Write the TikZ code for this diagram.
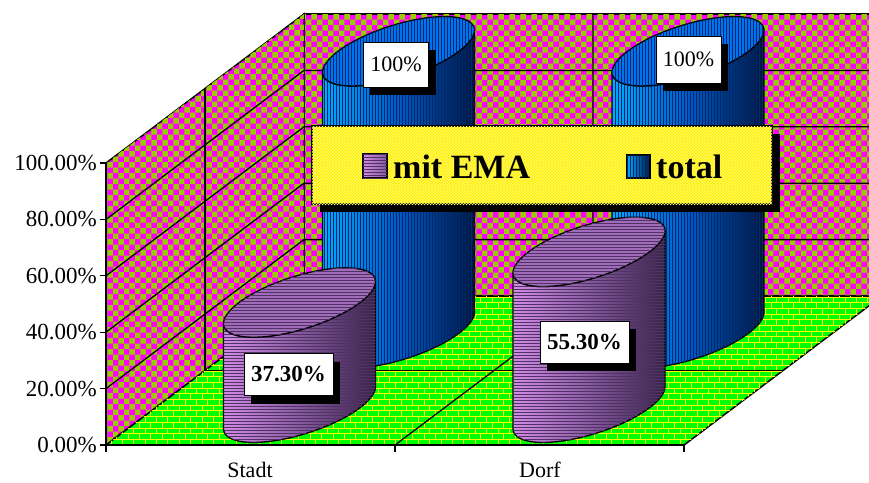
\documentclass[tikz,border=0pt]{standalone}
\usepackage{fontspec}
\setmainfont{Liberation Serif}
\usetikzlibrary{patterns,shadows}
\definecolor{wallmag}{RGB}{255,0,255}
\definecolor{wallgrn}{RGB}{153,204,0}
\definecolor{floorgrn}{RGB}{0,255,0}
\definecolor{brickyel}{RGB}{255,255,0}
\definecolor{legyel}{RGB}{255,232,0}
\definecolor{emalight}{RGB}{210,140,230}
\definecolor{emamid}{RGB}{135,90,160}
\definecolor{emadark}{RGB}{55,35,72}
\definecolor{emastripe}{RGB}{80,50,100}
\definecolor{ematop}{RGB}{160,108,185}
\definecolor{totlight}{RGB}{0,170,255}
\definecolor{totmid}{RGB}{0,90,200}
\definecolor{totdark}{RGB}{0,22,60}
\definecolor{totstripe}{RGB}{0,40,110}
\definecolor{tottop}{RGB}{0,115,240}
\tikzstyle{wall} = [draw, line width=1.5pt, fill=wallmag,
    postaction={pattern=checkerboard, pattern color=wallgrn}]
\tikzstyle{floorplane} = [draw, line width=1.5pt, fill=floorgrn,
    postaction={pattern=bricks, pattern color=brickyel}]
\tikzstyle{gridline} = [line width=1.3pt]
\tikzstyle{emaside} = [draw, line width=1.3pt, left color=emalight, right color=emadark, middle color=emamid,
    postaction={pattern=horizontal lines, pattern color=emastripe}]
\tikzstyle{ematopface} = [draw, line width=1.3pt, fill=ematop,
    postaction={pattern=horizontal lines, pattern color=emastripe}]
\tikzstyle{totside} = [draw, line width=1.3pt, left color=totlight, right color=totdark, middle color=totmid,
    postaction={pattern=vertical lines, pattern color=totstripe}]
\tikzstyle{tottopface} = [draw, line width=1.3pt, fill=tottop,
    postaction={pattern=vertical lines, pattern color=totstripe}]
\tikzstyle{valuebox} = [draw, fill=white, line width=0.6pt, inner xsep=7pt, minimum height=42pt,
    drop shadow={shadow xshift=7pt, shadow yshift=-8pt, fill=black, opacity=1}]
\tikzstyle{axislabel} = [anchor=east, inner sep=0pt, font=\fontsize{23}{27}\selectfont]
\tikzstyle{catlabel} = [anchor=base, inner sep=0pt, font=\fontsize{22}{26}\selectfont]
\tikzstyle{legendtext} = [anchor=base west, inner sep=0pt, font=\fontsize{34}{40}\selectfont\bfseries]
% cylinder: x, y of floor centre, height, side style, top style
\newcommand{\cylbar}[5]{%
  \draw[#4] plot[domain=217.25:397.25, samples=40] ({#1+60.5*cos(\x)+46*sin(\x)},{#2-34.7*sin(\x)})
    -- plot[domain=397.25:217.25, samples=40] ({#1+60.5*cos(\x)+46*sin(\x)},{#2-#3-34.7*sin(\x)}) -- cycle;
  \draw[#5] plot[domain=0:360, samples=80] ({#1+60.5*cos(\x)+46*sin(\x)},{#2-#3-34.7*sin(\x)}) -- cycle;
}

\begin{document}
\begin{tikzpicture}[x=1pt,y=-1pt]
    \useasboundingbox (0,0) rectangle (869,482);
    \clip (0,0) rectangle (869,482);

    % Corners of the box
    \coordinate (frontbot) at (106,445);
    \coordinate (fronttop) at (106,163);
    \coordinate (backbot) at (304,296);
    \coordinate (backtop) at (304,14);
    \coordinate (rightbot) at (882,296);
    \coordinate (righttop) at (882,14);
    \coordinate (frontright) at (684,445);

    % Walls and floor
    \path[wall] (backtop) -- (righttop) -- (rightbot) -- (backbot) -- cycle;
    \path[wall] (fronttop) -- (backtop) -- (backbot) -- (frontbot) -- cycle;
    \path[floorplane] (frontbot) -- (backbot) -- (rightbot) -- (frontright) -- cycle;

    % Grid lines
    \draw[gridline] (106,219.4) -- (304,70.4) -- (882,70.4);
    \draw[gridline] (106,275.8) -- (304,126.8) -- (882,126.8);
    \draw[gridline] (106,332.2) -- (304,183.2) -- (882,183.2);
    \draw[gridline] (106,388.6) -- (304,239.6) -- (882,239.6);
    \draw[gridline] (205,88.5) -- (205,370.5) -- (783,370.5);
    \draw[gridline] (395,445) -- (593,296) -- (593,14);

    % Axes and ticks
    \draw[line width=1.5pt] (fronttop) -- (frontbot) -- (frontright);
    \draw[line width=1.3pt] (100,163) -- (106,163);
    \draw[line width=1.3pt] (100,219.4) -- (106,219.4);
    \draw[line width=1.3pt] (100,275.8) -- (106,275.8);
    \draw[line width=1.3pt] (100,332.2) -- (106,332.2);
    \draw[line width=1.3pt] (100,388.6) -- (106,388.6);
    \draw[line width=1.3pt] (100,445) -- (106,445);
    \draw[line width=1.3pt] (106,445) -- (106,452);
    \draw[line width=1.3pt] (395,445) -- (395,452);
    \draw[line width=1.3pt] (684,445) -- (684,452);

    \node[axislabel] (lab100) at (97,163) {100.00\%};
    \node[axislabel] (lab80) at (97,219.4) {80.00\%};
    \node[axislabel] (lab60) at (97,275.8) {60.00\%};
    \node[axislabel] (lab40) at (97,332.2) {40.00\%};
    \node[axislabel] (lab20) at (97,388.6) {20.00\%};
    \node[axislabel] (lab0) at (97,445) {0.00\%};
    \node[catlabel] (stadt) at (250,477) {Stadt};
    \node[catlabel] (dorf) at (540,477) {Dorf};

    % Bars: back row total, front row mit EMA
    \cylbar{398.5}{333.25}{282}{totside}{tottopface}
    \cylbar{688}{333.25}{282}{totside}{tottopface}
    \cylbar{299.5}{407.75}{105.2}{emaside}{ematopface}
    \cylbar{589}{407.75}{155.9}{emaside}{ematopface}

    % Value labels
    \node[valuebox, minimum height=45pt, font=\fontsize{22}{26}\selectfont] (stadttotal) at (396,64.5) {100\%};
    \node[valuebox, minimum height=47pt, font=\fontsize{22}{26}\selectfont] (dorftotal) at (688.5,59.5) {100\%};
    \node[valuebox, font=\fontsize{23}{27}\selectfont\bfseries] (stadtema) at (288.5,374.5) {37.30\%};
    \node[valuebox, font=\fontsize{23}{27}\selectfont\bfseries] (dorfema) at (584.5,342) {55.30\%};

    % Legend
    \node[draw, line width=1.5pt, fill=legyel, minimum width=460pt, minimum height=78pt,
        postaction={pattern=crosshatch, pattern color=yellow!60!white},
        drop shadow={shadow xshift=8pt, shadow yshift=-8pt, fill=black, opacity=1}] (legend) at (542,165) {};
    \path[draw, line width=1.2pt, left color=emalight, right color=emamid,
        postaction={pattern=horizontal lines, pattern color=emastripe}] (363,154) rectangle (387,178);
    \path[draw, line width=1.2pt, left color=totlight, right color=totdark,
        postaction={pattern=vertical lines, pattern color=totstripe}] (627,155) rectangle (650,178);
    \node[legendtext] (emaentry) at (393,178) {mit EMA};
    \node[legendtext] (totalentry) at (656,178) {total};
\end{tikzpicture}
\end{document}
